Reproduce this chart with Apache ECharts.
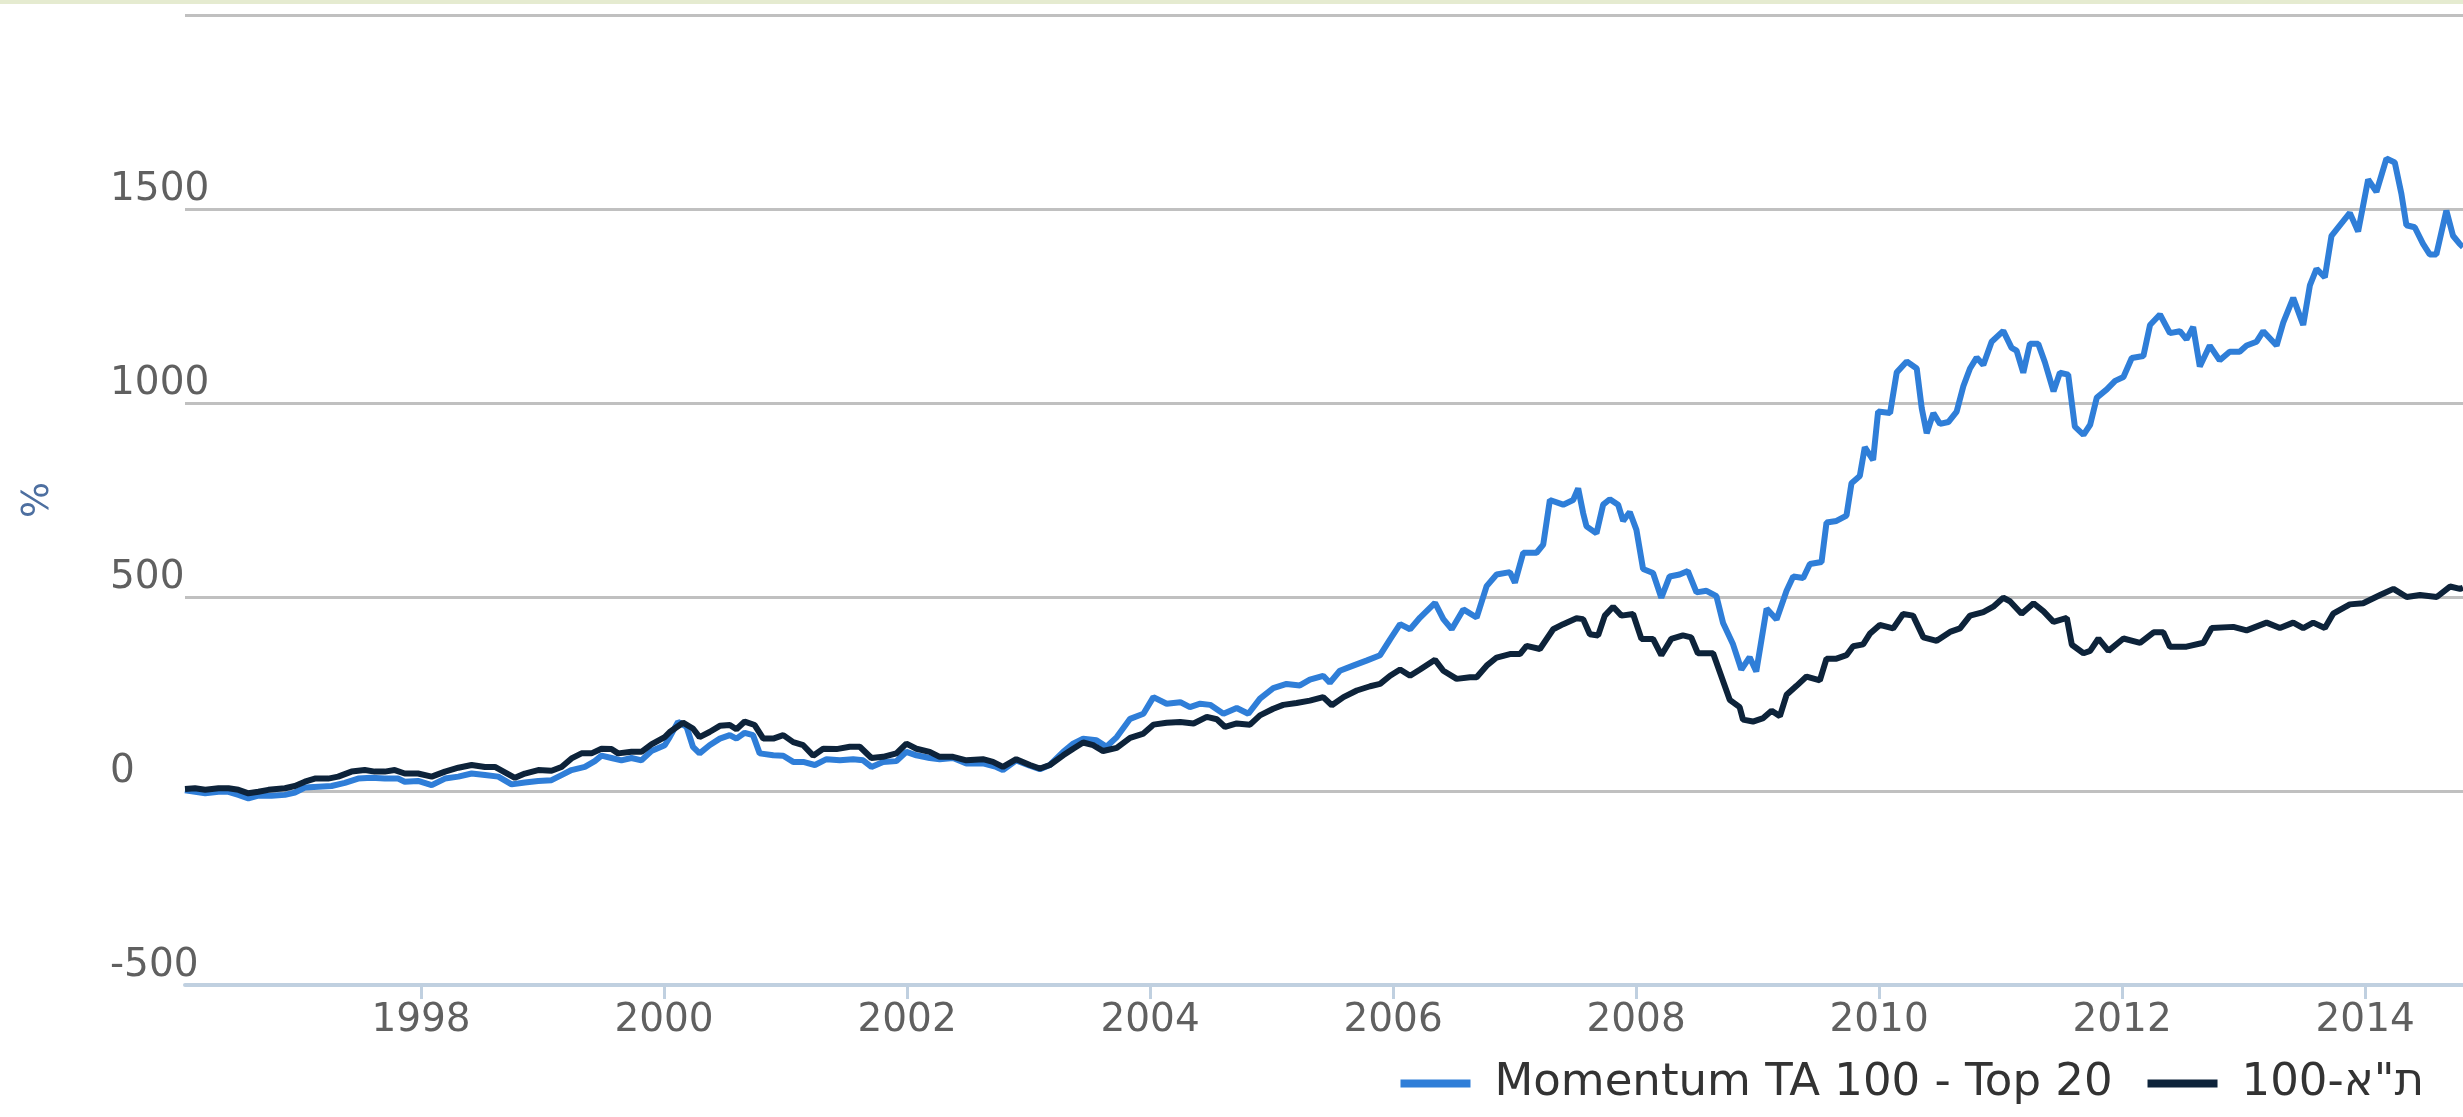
<!DOCTYPE html>
<html>
<head>
<meta charset="utf-8">
<title>Momentum TA 100 - Top 20</title>
<script src="https://cdn.jsdelivr.net/npm/echarts@6/dist/echarts.min.js"></script>
<style>
	html, body { margin: 0; padding: 0; background: #fff; }
	#chart { width: 2463px; height: 1117px; }
</style>
</head>
<body>
<div id="chart"></div>
<script>
'use strict';

// MOMENTUM TA 100 - TOP 20 (cumulative return, %)
var momDates = [
	'1996-01-22', '1996-03-23', '1996-05-02', '1996-06-01', '1996-07-01', '1996-07-31', '1996-08-30', '1996-10-09', '1996-11-18', '1996-12-18',
	'1997-01-17', '1997-02-26', '1997-04-07', '1997-05-17', '1997-06-26', '1997-08-05', '1997-09-14', '1997-10-24', '1997-11-13', '1997-12-23',
	'1998-02-02', '1998-03-14', '1998-04-23', '1998-06-02', '1998-07-12', '1998-08-21', '1998-09-30', '1998-11-09', '1998-12-19',
	'1999-01-28', '1999-02-27', '1999-03-29', '1999-05-08', '1999-06-07', '1999-06-27', '1999-07-27', '1999-08-26', '1999-09-25', '1999-10-25', '1999-11-24',
	'2000-01-03', '2000-01-18', '2000-02-12', '2000-03-09', '2000-03-28', '2000-04-17', '2000-05-17', '2000-06-17', '2000-07-17', '2000-08-06', '2000-08-31', '2000-09-25', '2000-10-15', '2000-11-25', '2000-12-25',
	'2001-01-24', '2001-02-23', '2001-03-30', '2001-05-04', '2001-06-13', '2001-07-23', '2001-08-22', '2001-09-16', '2001-10-21', '2001-11-30', '2001-12-30',
	'2002-01-29', '2002-03-10', '2002-04-09', '2002-05-19', '2002-06-28', '2002-08-17', '2002-09-26', '2002-10-16', '2002-11-25',
	'2003-01-05', '2003-02-04', '2003-03-06', '2003-04-15', '2003-05-15', '2003-06-14', '2003-07-24', '2003-08-23', '2003-09-23', '2003-11-02', '2003-12-12',
	'2004-01-11', '2004-02-20', '2004-04-01', '2004-04-30', '2004-05-31', '2004-06-30', '2004-08-09', '2004-09-18', '2004-10-23', '2004-11-27',
	'2005-01-06', '2005-02-15', '2005-03-27', '2005-04-26', '2005-06-05', '2005-06-25', '2005-07-25', '2005-09-03', '2005-10-13', '2005-11-23', '2005-12-23',
	'2006-01-22', '2006-02-21', '2006-03-23', '2006-05-07', '2006-06-01', '2006-06-26', '2006-07-31', '2006-09-09', '2006-10-09', '2006-11-08', '2006-12-18',
	'2007-01-02', '2007-01-27', '2007-03-08', '2007-03-28', '2007-04-17', '2007-05-27', '2007-06-26', '2007-07-11', '2007-07-26', '2007-08-05', '2007-09-04', '2007-09-24', '2007-10-14', '2007-11-08', '2007-11-23', '2007-12-13',
	'2008-01-02', '2008-01-22', '2008-02-21', '2008-03-17', '2008-04-11', '2008-05-11', '2008-06-05', '2008-07-01', '2008-07-31', '2008-08-30', '2008-09-19', '2008-10-19', '2008-11-13', '2008-12-08', '2008-12-28',
	'2009-01-28', '2009-02-27', '2009-03-29', '2009-04-18', '2009-05-18', '2009-06-07', '2009-07-12', '2009-07-27', '2009-08-26', '2009-09-25', '2009-10-10', '2009-11-04', '2009-11-19', '2009-12-14', '2009-12-29',
	'2010-02-03', '2010-02-23', '2010-03-25', '2010-04-24', '2010-05-09', '2010-05-24', '2010-06-13', '2010-07-03', '2010-07-28', '2010-08-22', '2010-09-11', '2010-10-01', '2010-10-21', '2010-11-10', '2010-12-05',
	'2011-01-09', '2011-02-03', '2011-02-18', '2011-03-10', '2011-03-30', '2011-04-24', '2011-05-14', '2011-06-09', '2011-06-28', '2011-07-23', '2011-08-12', '2011-09-07', '2011-09-27', '2011-10-17', '2011-11-16', '2011-12-11',
	'2012-01-05', '2012-01-30', '2012-03-05', '2012-03-25', '2012-04-24', '2012-05-24', '2012-06-23', '2012-07-13', '2012-08-02', '2012-08-22', '2012-09-21', '2012-10-21', '2012-11-20', '2012-12-20',
	'2013-01-10', '2013-02-09', '2013-03-01', '2013-04-10', '2013-04-30', '2013-05-30', '2013-06-29', '2013-07-19', '2013-08-08', '2013-09-02', '2013-09-22', '2013-10-17', '2013-11-16', '2013-12-11',
	'2014-01-10', '2014-02-04', '2014-03-06', '2014-03-31', '2014-04-20', '2014-05-05', '2014-05-30', '2014-06-24', '2014-07-14', '2014-08-03', '2014-09-02', '2014-09-22', '2014-10-12', '2014-10-22'
];
var momValues = [
	2, -6, -2, -2, -10, -19, -12, -12, -10, -4,
	9, 11, 13, 21, 32, 34, 32, 32, 24, 26,
	15, 32, 37, 45, 41, 37, 17, 22, 26,
	28, 41, 54, 62, 77, 91, 85, 79, 85, 79, 103,
	118, 139, 178, 165, 114, 97, 118, 135, 144, 135, 150, 144, 97, 92, 91,
	75, 75, 67, 82, 79, 82, 79, 62, 75, 77, 101,
	92, 85, 82, 85, 71, 71, 62, 54, 79,
	65, 56, 67, 101, 122, 135, 131, 114, 139, 186, 199,
	242, 225, 229, 216, 225, 222, 199, 214, 199, 238,
	265, 276, 272, 287, 297, 279, 310, 323, 336, 350, 391,
	430, 417, 447, 485, 443, 417, 468, 447, 528, 558, 564,
	537, 614, 614, 635, 750, 738, 750, 780, 716, 682, 664, 738, 752, 738, 696, 719,
	673, 572, 562, 498, 553, 558, 567, 512, 516, 502, 433, 378, 313, 345, 308,
	470, 442, 516, 553, 549, 585, 590, 692, 696, 710, 793, 812, 886, 853, 978,
	974, 1079, 1107, 1089, 987, 922, 974, 946, 951, 978, 1043, 1089, 1117, 1098, 1158,
	1186, 1142, 1135, 1078, 1153, 1153, 1105, 1030, 1078, 1073, 939, 918, 944, 1014, 1035, 1057,
	1067, 1116, 1121, 1201, 1228, 1180, 1185, 1164, 1196, 1094, 1148, 1110, 1132, 1132,
	1148, 1158, 1185, 1148, 1207, 1271, 1201, 1303, 1346, 1324, 1431, 1458, 1490, 1442,
	1576, 1544, 1630, 1620, 1539, 1458, 1453, 1410, 1383, 1383, 1496, 1431, 1410, 1402
];

// TA-100 INDEX (cumulative return, %)
var taDates = [
	'1996-01-22', '1996-02-21', '1996-03-23', '1996-05-02', '1996-06-01', '1996-07-01', '1996-07-31', '1996-08-30', '1996-09-29', '1996-11-18', '1996-12-18',
	'1997-01-17', '1997-02-16', '1997-03-28', '1997-04-27', '1997-06-06', '1997-07-16', '1997-08-15', '1997-09-14', '1997-10-14', '1997-11-13', '1997-12-23',
	'1998-02-02', '1998-03-14', '1998-04-23', '1998-06-02', '1998-07-12', '1998-08-11', '1998-09-10', '1998-10-10', '1998-11-09', '1998-12-19',
	'1999-01-28', '1999-02-27', '1999-03-29', '1999-04-28', '1999-05-28', '1999-06-27', '1999-07-27', '1999-08-16', '1999-09-25', '1999-10-25', '1999-11-24',
	'2000-01-03', '2000-01-18', '2000-02-27', '2000-03-28', '2000-04-17', '2000-05-17', '2000-06-17', '2000-07-17', '2000-08-06', '2000-08-31', '2000-09-30', '2000-10-26', '2000-11-25', '2000-12-25',
	'2001-01-24', '2001-02-23', '2001-03-25', '2001-04-24', '2001-06-03', '2001-07-13', '2001-08-12', '2001-09-16', '2001-10-21', '2001-11-30', '2001-12-30',
	'2002-01-29', '2002-03-10', '2002-04-09', '2002-05-19', '2002-06-28', '2002-08-17', '2002-09-16', '2002-10-16', '2002-11-25',
	'2003-01-05', '2003-02-04', '2003-03-06', '2003-04-15', '2003-05-15', '2003-06-14', '2003-07-14', '2003-08-13', '2003-09-23', '2003-11-02', '2003-12-12',
	'2004-01-11', '2004-02-20', '2004-04-01', '2004-05-11', '2004-06-20', '2004-07-20', '2004-08-14', '2004-09-18', '2004-10-28', '2004-11-27',
	'2005-01-06', '2005-02-05', '2005-03-17', '2005-04-26', '2005-06-05', '2005-07-01', '2005-08-05', '2005-09-14', '2005-10-24', '2005-11-23', '2005-12-23',
	'2006-01-22', '2006-02-21', '2006-03-23', '2006-05-07', '2006-06-01', '2006-07-11', '2006-08-20', '2006-09-09', '2006-10-09', '2006-11-08', '2006-12-18',
	'2007-01-17', '2007-02-06', '2007-03-18', '2007-04-27', '2007-05-27', '2007-07-06', '2007-07-26', '2007-08-15', '2007-09-09', '2007-09-29', '2007-10-24', '2007-11-18', '2007-12-23',
	'2008-01-17', '2008-02-21', '2008-03-17', '2008-04-16', '2008-05-21', '2008-06-15', '2008-07-05', '2008-08-20', '2008-09-14', '2008-10-09', '2008-11-08', '2008-11-18', '2008-12-18',
	'2009-01-18', '2009-02-12', '2009-03-09', '2009-03-29', '2009-04-28', '2009-05-28', '2009-07-07', '2009-07-27', '2009-08-26', '2009-09-25', '2009-10-15', '2009-11-14', '2009-12-04',
	'2010-01-03', '2010-02-12', '2010-03-14', '2010-04-13', '2010-05-14', '2010-06-23', '2010-08-02', '2010-09-01', '2010-10-01', '2010-11-10', '2010-12-10',
	'2011-01-09', '2011-01-29', '2011-03-05', '2011-04-10', '2011-05-10', '2011-06-09', '2011-07-19', '2011-08-03', '2011-09-07', '2011-09-27', '2011-10-22', '2011-11-21',
	'2012-01-05', '2012-02-24', '2012-04-05', '2012-05-04', '2012-05-24', '2012-07-13', '2012-09-02', '2012-09-27', '2012-12-01',
	'2013-01-10', '2013-03-11', '2013-04-20', '2013-05-30', '2013-06-29', '2013-07-29', '2013-09-02', '2013-09-27', '2013-11-16', '2013-12-26',
	'2014-02-15', '2014-03-27', '2014-05-06', '2014-06-15', '2014-08-04', '2014-09-13', '2014-10-13', '2014-10-22'
];
var taValues = [
	5, 7, 3, 7, 7, 3, -6, -2, 3, 7, 13,
	24, 32, 32, 37, 50, 54, 50, 50, 54, 45, 45,
	37, 50, 60, 67, 62, 62, 48, 34, 45, 54,
	52, 62, 84, 97, 97, 109, 108, 97, 101, 101, 120,
	139, 152, 176, 161, 139, 152, 168, 170, 159, 179, 170, 135, 135, 144,
	126, 118, 91, 109, 108, 114, 114, 85, 88, 97, 122,
	109, 101, 88, 88, 79, 82, 75, 62, 82,
	67, 58, 67, 92, 109, 125, 118, 103, 111, 137, 148,
	171, 176, 178, 174, 191, 185, 165, 174, 171, 195,
	212, 222, 227, 233, 242, 221, 242, 259, 270, 276, 297,
	313, 297, 313, 338, 310, 289, 293, 293, 323, 344, 353,
	353, 374, 366, 417, 430, 445, 443, 404, 401, 452, 475, 452, 456,
	392, 392, 350, 392, 401, 396, 355, 355, 295, 235, 216, 184, 179,
	188, 207, 193, 248, 271, 295, 285, 341, 341, 350, 373, 378, 405,
	428, 419, 456, 452, 396, 387, 410, 419, 452, 461, 475,
	498, 489, 457, 484, 463, 436, 446, 377, 355, 361, 393, 361,
	393, 382, 409, 409, 372, 372, 382, 420, 423,
	414, 434, 420, 434, 420, 434, 420, 457, 481, 484,
	505, 521, 500, 505, 500, 527, 521, 524
];

var yearTicks = [1998, 2000, 2002, 2004, 2006, 2008, 2010, 2012, 2014];
var seriesNames = ['Momentum TA 100 - Top 20', '100-ת"א'];
var startDate = '1996-01-22';
var endDate = '2014-10-22';

// date string -> fractional year, so the value axis can place it
function toYear(s) {
	var p = s.split('-');
	var y = +p[0];
	var t = Date.UTC(y, +p[1] - 1, +p[2]);
	var a = Date.UTC(y, 0, 1);
	var b = Date.UTC(y + 1, 0, 1);
	return y + (t - a) / (b - a);
}

function pairs(dates, values) {
	return dates.map(function(d, i) {
		return [toYear(d), values[i]];
	});
}

var chart = echarts.init(document.getElementById('chart'));
var labelFont = 'DejaVu Sans';

var option = {
	animation: false,
	backgroundColor: '#ffffff',
	color: ['#2f7ed8', '#0d233a'],
	graphic: [{
		type: 'rect',
		left: 0,
		top: 0,
		shape: { width: 2463, height: 4 },
		style: { fill: '#e5ebd0' },
		silent: true
	}],
	grid: {
		left: 185,
		right: 0,
		top: 15,
		bottom: 132,
		outerBoundsMode: 'none'
	},
	legend: {
		right: 34,
		top: 1056,
		icon: 'rect',
		itemWidth: 70,
		itemHeight: 8,
		itemGap: 35,
		textStyle: {
			fontFamily: labelFont,
			fontSize: 45,
			color: '#333333',
			padding: [0, 0, 0, 19]
		},
		data: seriesNames
	},
	xAxis: {
		type: 'value',
		min: toYear(startDate),
		max: toYear(endDate),
		axisLine: {
			onZero: false,
			lineStyle: { color: '#c0d0e0', width: 4 }
		},
		axisTick: {
			show: true,
			length: 14,
			customValues: yearTicks,
			lineStyle: { color: '#c0d0e0', width: 3 }
		},
		axisLabel: {
			customValues: yearTicks,
			margin: 16,
			fontFamily: labelFont,
			fontSize: 39,
			color: '#606060',
			formatter: function(value) {
				return String(Math.round(value));
			}
		},
		splitLine: { show: false }
	},
	yAxis: {
		type: 'value',
		min: -500,
		max: 2000,
		interval: 500,
		name: '%',
		nameLocation: 'middle',
		nameGap: 128,
		nameTextStyle: {
			fontFamily: labelFont,
			fontSize: 38,
			color: '#4d6fa0'
		},
		axisLine: { show: false },
		axisTick: { show: false },
		axisLabel: {
			align: 'left',
			verticalAlign: 'bottom',
			margin: 75,
			fontFamily: labelFont,
			fontSize: 39,
			color: '#606060',
			formatter: function(value) {
				return value === 2000 ? '' : String(value);
			}
		},
		splitLine: {
			lineStyle: { color: '#c0c0c0', width: 3 }
		}
	},
	series: [{
		name: seriesNames[0],
		type: 'line',
		showSymbol: false,
		symbol: 'none',
		data: pairs(momDates, momValues),
		lineStyle: { color: '#2f7ed8', width: 6 }
	}, {
		name: seriesNames[1],
		type: 'line',
		showSymbol: false,
		symbol: 'none',
		data: pairs(taDates, taValues),
		lineStyle: { color: '#0d233a', width: 6 }
	}]
};
chart.setOption(option);
</script>
</body>
</html>
